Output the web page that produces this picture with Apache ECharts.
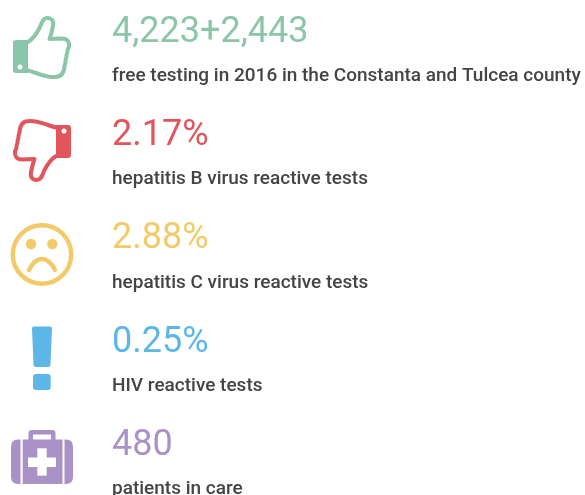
<!DOCTYPE html>
<html>
<head>
<meta charset="utf-8">
<style>
    html, body { margin: 0; padding: 0; background: #fff; }
    #chart { width: 585px; height: 495px; }
</style>
<script src="https://cdn.jsdelivr.net/npm/echarts@6/dist/echarts.min.js"></script>
</head>
<body>
<div id="chart"></div>
<script>
const values = ['4,223+2,443', '2.17%', '2.88%', '0.25%', '480'];
const captions = [
    'free testing in 2016 in the Constanta and Tulcea county',
    'hepatitis B virus reactive tests',
    'hepatitis C virus reactive tests',
    'HIV reactive tests',
    'patients in care'
];
const colors = ['#8cc6a8', '#e0565c', '#f3ca69', '#5cb7e6', '#ab92c6'];

// graphic component has no plain 'path' type, so register the outlines as shapes
const shapes = {
    thumbLine: 'M28 42 C33 39 37 33 40 27 C42 22 43 18 47 18 C52 18 54 21 53 26 C52 31 51 35 49.5 39 L62 38.5 C67.5 38.5 69.5 42 69 46 C69 48 67.5 49 67.5 50.5 C68 52 67 54 66.5 55 C67 57 66 59 65.5 60 C66 62 65 64 64.5 66 C64 73 61 77 55 77 C48 77.5 42 75 36 73 C33 72 30 71 28 70.5',
    thumbCuff: 'M16 40 L28 40 L28 73 L16 73 Q13 73 13 70 L13 43 Q13 40 16 40 Z',
    frown: 'M29 270 C33 262 37 259 42 259 C47 259 51 262 55 270',
    alertBar: 'M34 326.5 L50 326.5 Q52 326.5 52 328.5 L50.5 364 Q50.5 367 48 367 L36 367 Q33.5 367 33.5 364 L32 328.5 Q32 326.5 34 326.5 Z',
    kitHandle: 'M28.5 440 L28.5 433 Q28.5 430 31.5 430 L52.5 430 Q55.5 430 55.5 433 L55.5 440 L51 440 L51 434.5 L33 434.5 L33 440 Z',
    kitLeft: 'M20.5 439.5 L20.5 484 L18 484 Q11 484 11 477 L11 446.5 Q11 439.5 18 439.5 Z',
    kitRight: 'M64.5 439.5 L66 439.5 Q73 439.5 73 446.5 L73 477 Q73 484 66 484 L64.5 484 Z'
};
Object.keys(shapes).forEach(function (name) {
    echarts.graphic.registerShape(name, echarts.graphic.extendPath(shapes[name]));
});

// each icon gets the row colour
function thumbIcon(color, down) {
    return {
        type: 'group',
        // turned half way round its own centre for the thumbs down
        x: down ? 84 : 0,
        y: down ? 198 : 0,
        rotation: down ? Math.PI : 0,
        children: [
            { type: 'thumbLine', style: { fill: 'none', stroke: color, lineWidth: 4, lineCap: 'round', lineJoin: 'round' } },
            { type: 'thumbCuff', style: { fill: color } },
            { type: 'circle', shape: { cx: 20, cy: 67, r: 2.5 }, style: { fill: '#fff' } }
        ]
    };
}

function sadIcon(color) {
    return {
        type: 'group',
        children: [
            { type: 'circle', shape: { cx: 42, cy: 254.5, r: 29.2 }, style: { fill: 'none', stroke: color, lineWidth: 4.4 } },
            { type: 'circle', shape: { cx: 31, cy: 244, r: 5.2 }, style: { fill: color } },
            { type: 'circle', shape: { cx: 52.3, cy: 244, r: 5.2 }, style: { fill: color } },
            { type: 'frown', style: { fill: 'none', stroke: color, lineWidth: 4.4, lineCap: 'round' } }
        ]
    };
}

function alertIcon(color) {
    return {
        type: 'group',
        children: [
            { type: 'alertBar', style: { fill: color } },
            { type: 'rect', shape: { x: 33, y: 374, width: 17.7, height: 16, r: 3 }, style: { fill: color } }
        ]
    };
}

function kitIcon(color) {
    return {
        type: 'group',
        children: [
            { type: 'kitHandle', style: { fill: color } },
            { type: 'kitLeft', style: { fill: color } },
            { type: 'rect', shape: { x: 22.7, y: 439.5, width: 39.8, height: 44.5 }, style: { fill: color } },
            { type: 'kitRight', style: { fill: color } },
            { type: 'rect', shape: { x: 28, y: 457.5, width: 28, height: 9.5 }, style: { fill: '#fff' } },
            { type: 'rect', shape: { x: 37.3, y: 448.3, width: 9.4, height: 27.4 }, style: { fill: '#fff' } }
        ]
    };
}

const icons = [
    thumbIcon(colors[0], false),
    thumbIcon(colors[1], true),
    sadIcon(colors[2]),
    alertIcon(colors[3]),
    kitIcon(colors[4])
];

const rowGap = 103.4;
const textLeft = 112;
let elements = icons.slice();
values.forEach(function (v, i) {
    elements.push({
        type: 'text',
        x: textLeft,
        y: 32.5 + i * rowGap,
        style: {
            text: v,
            fill: colors[i],
            font: '400 36px Roboto',
            textVerticalAlign: 'middle'
        }
    });
    elements.push({
        type: 'text',
        x: textLeft,
        y: 76 + i * rowGap,
        style: {
            text: captions[i],
            fill: '#444444',
            font: '500 19px Roboto',
            textVerticalAlign: 'middle'
        }
    });
});

let chart = echarts.init(document.getElementById('chart'));
chart.setOption({
    animation: false,
    backgroundColor: '#fff',
    graphic: { elements: elements }
});
</script>
</body>
</html>
